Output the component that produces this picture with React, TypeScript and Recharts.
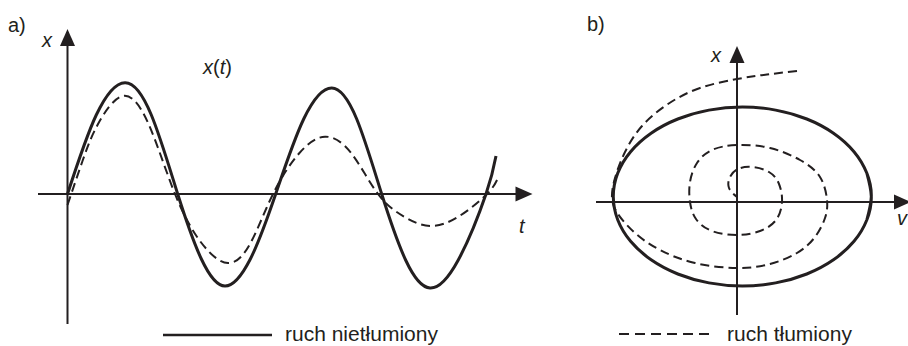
import { LineChart, Line, XAxis, YAxis, ReferenceLine, ReferenceDot } from "recharts";

const INK = "#231f20";
const FONT = '"Liberation Sans", Arial, sans-serif';

// a) displacement over time
const T_UNDAMPED = [0, 0.575, 1.15, 1.677, 2.204, 2.677, 3.15, 3.657, 4.164, 4.724, 5.284, 5.784, 6.284, 6.767, 7.25, 7.81, 8.37, 8.57];
const X_UNDAMPED = [0, 7.9, 11.13, 7.9, 0, -6.5, -9.2, -6.5, 0, 7.5, 10.6, 7.5, 0, -6.65, -9.4, -6.65, 0, 3.8];
const T_DAMPED = [0, 0.3, 0.6, 1.11, 1.63, 2.15, 2.68, 3.21, 3.66, 4.11, 4.63, 5.15, 5.68, 6.21, 6.73, 7.25, 7.82, 8.39, 8.61];
const X_DAMPED = [-1.1, 3.3, 6.9, 9.8, 6.9, 0, -4.9, -6.9, -4.9, 0, 4.05, 5.73, 4.05, 0, -2.26, -3.2, -2.26, 0, 1.6];

// b) phase plane (v horizontal, x vertical)
const V_ELLIPSE = [12.99, 13.43, 12.99, 11.7, 9.65, 6.98, 3.87, 0.53, -2.81, -5.92, -8.59, -10.64, -11.93, -12.37, -11.93, -10.64, -8.59, -5.92, -2.81, 0.53, 3.87, 6.98, 9.65, 11.7, 12.99, 13.43, 12.99];
const X_ELLIPSE = [-1.77, 0.55, 2.87, 5.03, 6.88, 8.3, 9.19, 9.5, 9.19, 8.3, 6.88, 5.03, 2.87, 0.55, -1.77, -3.93, -5.78, -7.2, -8.09, -8.4, -8.09, -7.2, -5.78, -3.93, -1.77, 0.55, 2.87];
const V_SPIRAL = [6.0, 3.0, 0.0, -3.7, -6.9, -9.5, -11.2, -12.2, -12.5, -11.9, -10.2, -7.7, -4.2, 0.0, 3.3, 6.0, 7.8, 8.8, 9.0, 8.3, 6.3, 3.3, 0.0, -2.5, -4.0, -4.7, -4.7, -4.1, -2.5, 0.0, 2.3, 3.9, 4.5, 4.2, 3.2, 1.5, 0.1, -0.7, -0.8, 0.0];
const X_SPIRAL = [13.1, 12.75, 12.3, 11.4, 9.8, 7.6, 5.0, 2.4, 0.4, -1.2, -3.1, -4.8, -6.1, -6.6, -6.2, -5.1, -3.5, -1.6, 0.2, 2.5, 4.2, 5.4, 5.7, 5.2, 3.9, 2.0, 0.0, -1.7, -2.9, -3.3, -2.9, -1.8, 0.0, 1.8, 3.0, 3.5, 3.3, 2.5, 1.4, 0.5];

const undamped = T_UNDAMPED.map((t, i) => ({ t, x: X_UNDAMPED[i] }));
const damped = T_DAMPED.map((t, i) => ({ t, x: X_DAMPED[i] }));
const ellipse = V_ELLIPSE.map((v, i) => ({ v, x: X_ELLIPSE[i] }));
const spiral = V_SPIRAL.map((v, i) => ({ v, x: X_SPIRAL[i] }));

const arrowRight = (p: any) => (
  <polygon points={`${p.cx},${p.cy} ${p.cx - 17},${p.cy - 7.5} ${p.cx - 17},${p.cy + 7.5}`} fill={INK} />
);
const arrowUp = (p: any) => (
  <polygon points={`${p.cx},${p.cy} ${p.cx - 7.5},${p.cy + 17} ${p.cx + 7.5},${p.cy + 17}`} fill={INK} />
);

const margin = { top: 0, right: 0, bottom: 0, left: 0 };

function TimePlot() {
  return (
    <LineChart width={540} height={346} margin={margin}>
      <XAxis dataKey="t" type="number" domain={[-1.35, 9.45]} allowDataOverflow hide />
      <YAxis type="number" domain={[-15.2, 19.4]} allowDataOverflow hide />
      <ReferenceLine segment={[{ x: -0.59, y: 0 }, { x: 9.2, y: 0 }]} stroke={INK} strokeWidth={2} />
      <ReferenceLine segment={[{ x: 0, y: -13 }, { x: 0, y: 16.2 }]} stroke={INK} strokeWidth={2} />
      <ReferenceDot x={9.3} y={0} shape={arrowRight} ifOverflow="visible" />
      <ReferenceDot x={0} y={16.5} shape={arrowUp} ifOverflow="visible" />
      <Line data={damped} dataKey="x" type="natural" stroke={INK} strokeWidth={2} strokeDasharray="9 5" dot={false} activeDot={false} isAnimationActive={false} />
      <Line data={undamped} dataKey="x" type="natural" stroke={INK} strokeWidth={3} dot={false} activeDot={false} isAnimationActive={false} />
    </LineChart>
  );
}

function PhasePlot() {
  return (
    <LineChart width={331} height={346} margin={margin}>
      <XAxis dataKey="v" type="number" domain={[-16, 17.1]} allowDataOverflow hide />
      <YAxis type="number" domain={[-14.4, 20.2]} allowDataOverflow hide />
      <ReferenceLine segment={[{ x: -14.1, y: 0 }, { x: 17.1, y: 0 }]} stroke={INK} strokeWidth={2} ifOverflow="visible" />
      <ReferenceLine segment={[{ x: 0, y: -11.3 }, { x: 0, y: 15.3 }]} stroke={INK} strokeWidth={2} />
      <ReferenceDot x={17.4} y={0} shape={arrowRight} ifOverflow="visible" />
      <ReferenceDot x={0} y={15.6} shape={arrowUp} ifOverflow="visible" />
      <Line data={spiral} dataKey="x" type="natural" stroke={INK} strokeWidth={2} strokeDasharray="9 5" dot={false} activeDot={false} isAnimationActive={false} />
      <Line data={ellipse} dataKey="x" type="natural" stroke={INK} strokeWidth={3} dot={false} activeDot={false} isAnimationActive={false} />
    </LineChart>
  );
}

export default function App() {
  const txt = { fontFamily: FONT, fontSize: 20, fill: INK };
  const legendTxt = { ...txt, fontSize: 21 };
  return (
    <div style={{ position: "absolute", left: 0, top: 0, width: 908, height: 346, background: "#fff", overflow: "hidden" }}>
      <div style={{ position: "absolute", left: 0, top: 0 }}>
        <TimePlot />
      </div>
      <div style={{ position: "absolute", left: 577, top: 0 }}>
        <PhasePlot />
      </div>
      <svg width={908} height={346} style={{ position: "absolute", left: 0, top: 0, pointerEvents: "none" }}>
        <text x={8} y={32} {...txt}>a)</text>
        <text x={42} y={47} {...txt} fontStyle="italic">x</text>
        <text x={203} y={74} {...txt}>
          <tspan fontStyle="italic">x</tspan>(<tspan fontStyle="italic">t</tspan>)
        </text>
        <text x={519} y={233} {...txt} fontStyle="italic">t</text>
        <line x1={163} y1={335} x2={272} y2={335} stroke={INK} strokeWidth={2.5} />
        <text x={285} y={341} {...legendTxt}>ruch nietłumiony</text>

        <text x={587} y={31} {...txt}>b)</text>
        <text x={711} y={62} {...txt} fontStyle="italic">x</text>
        <text x={897} y={225} {...txt} fontStyle="italic">v</text>
        <line x1={619} y1={334} x2={715} y2={334} stroke={INK} strokeWidth={2} strokeDasharray="10 6" />
        <text x={727} y={341} {...legendTxt}>ruch tłumiony</text>
      </svg>
    </div>
  );
}
